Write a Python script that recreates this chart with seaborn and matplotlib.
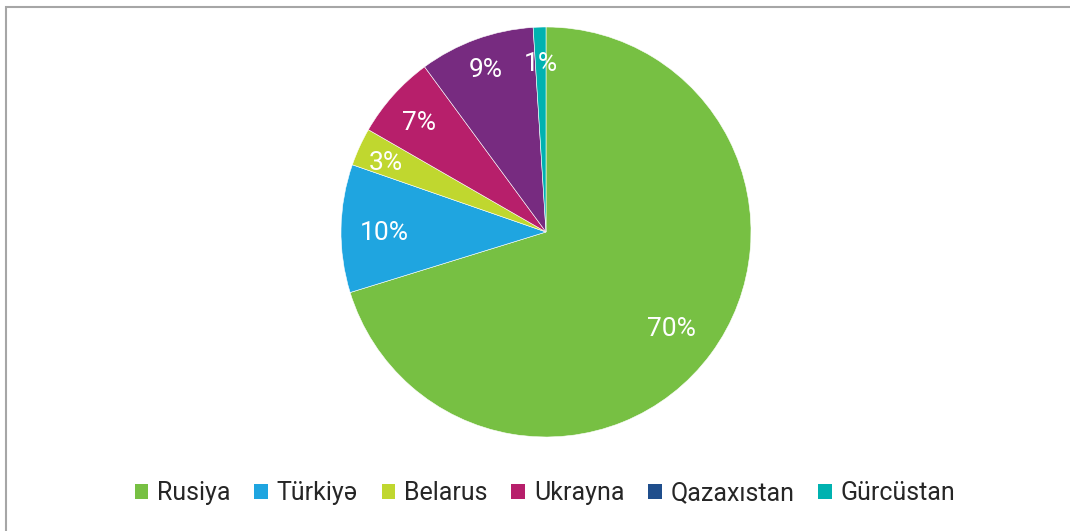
import matplotlib
matplotlib.use("Agg")
import numpy as np
import matplotlib.pyplot as plt
import matplotlib.patches as mpatches
import seaborn as sns

sns.set_theme(style="white")
plt.rcParams['font.family'] = ['Roboto', 'DejaVu Sans']

# data
countries = ["Rusiya", "Türkiyə", "Belarus", "Ukrayna", "Qazaxıstan", "Gürcüstan"]
shares = [70.3, 10.1, 3.0, 6.6, 9.1, 1.0]
slice_colors = ["#77c043", "#1fa5e0", "#c0d72f", "#b71f6b", "#772b80", "#00b2b0"]
legend_colors = ["#77c043", "#1fa5e0", "#c0d72f", "#b71f6b", "#1f4e8c", "#00b2b0"]
label_dist = [0.76, 0.79, 0.86, 0.83, 0.86, 0.84]

W, H = 1070, 531
fig = plt.figure(figsize=(W / 100, H / 100), dpi=100)

# outer frame (only top and left visible)
fig.add_artist(mpatches.Rectangle((6 / W, -0.1), 1.2, (H - 7) / H + 0.1,
                                  transform=fig.transFigure, fill=False,
                                  edgecolor="#a6a6a6", linewidth=1.5))

cx, cy, r = 546, 232, 205
ax = fig.add_axes([(cx - r) / W, (H - cy - r) / H, 2 * r / W, 2 * r / H])
wedges, texts, autotexts = ax.pie(
    shares, colors=slice_colors, startangle=90, counterclock=False,
    autopct="%.0f%%", pctdistance=0.8, radius=1,
    wedgeprops=dict(edgecolor="white", linewidth=0.4),
    textprops=dict(color="white", fontsize=19))
# nudge labels to the distances seen in the original
for w, t, d in zip(wedges, autotexts, label_dist):
    ang = np.deg2rad((w.theta1 + w.theta2) / 2)
    t.set_position((d * np.cos(ang), d * np.sin(ang) - 0.02))
ax.set_xlim(-1, 1)
ax.set_ylim(-1, 1)
ax.set_aspect("equal")
ax.axis("off")

handles = [mpatches.Patch(facecolor=c, edgecolor="none") for c in legend_colors]
fig.legend(handles, countries, loc="center", bbox_to_anchor=(545 / W, 1 - 493 / H),
           ncol=6, frameon=False, fontsize=18, handlelength=0.55, handleheight=0.55,
           handletextpad=0.35, columnspacing=0.95)

fig.savefig("out.png", dpi=100, facecolor="white")
